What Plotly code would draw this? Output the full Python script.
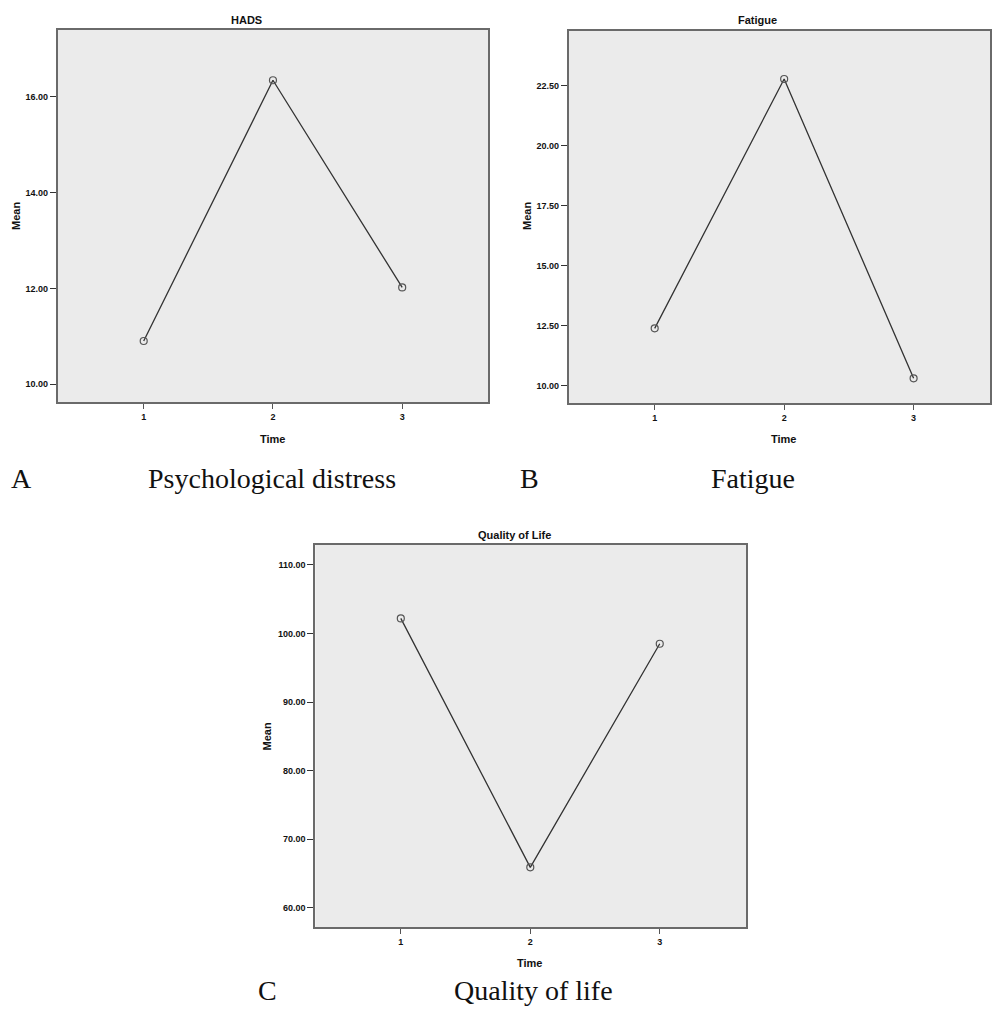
import plotly.graph_objects as go

# ---- data ----
time_points = [1, 2, 3]
hads_mean = [10.90, 16.35, 12.02]
fatigue_mean = [12.39, 22.78, 10.31]
qol_mean = [102.2, 65.9, 98.5]

panel_titles = ["HADS", "Fatigue", "Quality of Life"]
panel_letters = ["A", "B", "C"]
panel_captions = ["Psychological distress", "Fatigue", "Quality of life"]

W, H = 992, 1010

def px(x):
    return x / W

def py(y):
    return 1 - y / H

fig = go.Figure()

line_style = dict(color="#333333", width=1.3)
marker_style = dict(symbol="circle-open", size=7, color="#555555", line=dict(width=1.2))

for vals, ax in [(hads_mean, ""), (fatigue_mean, "2"), (qol_mean, "3")]:
    fig.add_trace(go.Scatter(
        x=time_points, y=vals, mode="lines+markers",
        line=line_style, marker=marker_style,
        xaxis="x" + ax, yaxis="y" + ax, showlegend=False, hoverinfo="x+y",
    ))

tick_font = dict(family="Liberation Sans, Arial, sans-serif", size=9, color="#111111", weight="bold")
common_x = dict(
    tickvals=time_points, ticktext=[str(t) for t in time_points],
    showgrid=False, zeroline=False, showline=True, mirror=True,
    linecolor="#6a6a6a", linewidth=2, ticks="outside", ticklen=5,
    tickcolor="#555555", tickwidth=1, tickfont=tick_font,
)
common_y = dict(
    showgrid=False, zeroline=False, showline=True, mirror=True,
    linecolor="#6a6a6a", linewidth=2, ticks="outside", ticklen=6,
    tickcolor="#333333", tickwidth=1, tickfont=tick_font, tickformat=".2f",
)

fig.update_layout(
    width=W, height=H,
    margin=dict(l=0, r=0, t=0, b=0),
    paper_bgcolor="white", plot_bgcolor="#ebebeb",
    xaxis=dict(domain=[px(58), px(489)], range=[0.336, 3.664], anchor="y", **common_x),
    yaxis=dict(domain=[py(402), py(30)], range=[9.625, 17.4], anchor="x",
               tickvals=[10, 12, 14, 16], **common_y),
    xaxis2=dict(domain=[px(570), 1.0], range=[0.337, 3.59], anchor="y2", **common_x),
    yaxis2=dict(domain=[py(403), py(31)], range=[9.28, 24.78], anchor="x2",
                tickvals=[10, 12.5, 15, 17.5, 20, 22.5], **common_y),
    xaxis3=dict(domain=[px(316), px(748)], range=[0.34, 3.67], anchor="y3", **common_x),
    yaxis3=dict(domain=[py(927), py(545)], range=[57.2, 112.9], anchor="x3",
                tickvals=[60, 70, 80, 90, 100, 110], **common_y),
)

bold_font = dict(family="Liberation Sans, Arial, sans-serif", size=11, color="#111111")
serif_font = dict(family="Liberation Serif, Times New Roman, serif", size=28, color="#111111")

annots = []
for text, x, y in [(panel_titles[0], 247, 20), (panel_titles[1], 759, 20), (panel_titles[2], 516, 535)]:
    annots.append(dict(text="<b>%s</b>" % text, x=px(x), y=py(y), xref="paper", yref="paper",
                       showarrow=False, font=bold_font, xanchor="center", yanchor="middle"))
for x, y in [(273, 439), (785, 439), (531, 963)]:
    annots.append(dict(text="<b>Time</b>", x=px(x), y=py(y), xref="paper", yref="paper",
                       showarrow=False, font=bold_font, xanchor="center", yanchor="middle"))
for x, y in [(16, 216), (528, 216), (268, 736)]:
    annots.append(dict(text="<b>Mean</b>", x=px(x), y=py(y), xref="paper", yref="paper",
                       showarrow=False, font=bold_font, textangle=-90,
                       xanchor="center", yanchor="middle"))
for text, x, y in [(panel_letters[0], 22, 478), (panel_letters[1], 531, 478), (panel_letters[2], 268, 990)]:
    annots.append(dict(text=text, x=px(x), y=py(y), xref="paper", yref="paper",
                       showarrow=False, font=serif_font, xanchor="center", yanchor="middle"))
for text, x, y in [(panel_captions[0], 273, 478), (panel_captions[1], 755, 478), (panel_captions[2], 535, 990)]:
    annots.append(dict(text=text, x=px(x), y=py(y), xref="paper", yref="paper",
                       showarrow=False, font=serif_font, xanchor="center", yanchor="middle"))

fig.update_layout(annotations=annots)

fig.write_html(
    "out.html",
    config={"displayModeBar": False},
    post_script="document.body.style.margin='0';document.body.style.overflow='hidden';",
)
